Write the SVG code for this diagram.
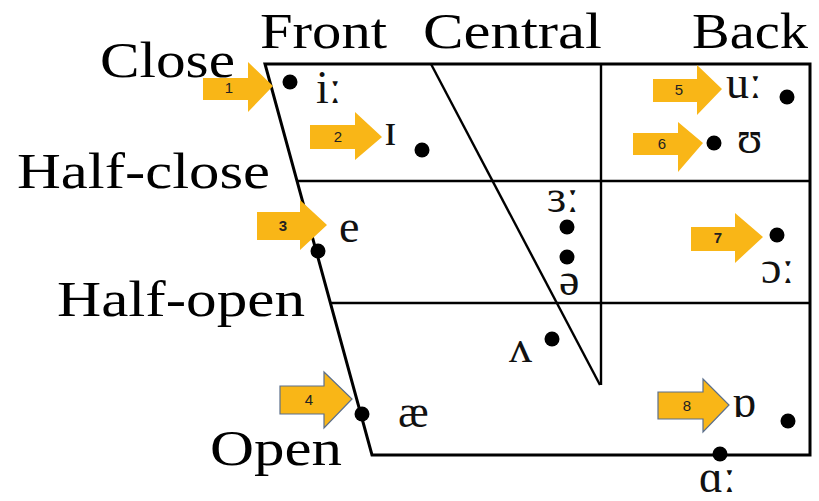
<svg xmlns="http://www.w3.org/2000/svg" width="819" height="501" viewBox="0 0 819 501">
<style>
.lbl{font-family:"Liberation Serif","Times New Roman",serif;font-size:50px;fill:#000}
.v{font-family:"Liberation Serif","DejaVu Serif",serif;font-size:46px;fill:#111}
.ln{stroke:#000;stroke-width:3;fill:none}
.ln2{stroke:#000;stroke-width:2.4;fill:none}
.arr{fill:#F9B617}
.arrb{fill:#F9B617;stroke:#5B6F8C;stroke-width:1.2}
.n{font-family:"Liberation Sans",Arial,sans-serif;font-size:15px;fill:#222;text-anchor:middle}
.dot{fill:#000}
</style>
<rect width="819" height="501" fill="#fff"/>
<g id="labels">
<text class="lbl" x="260" y="48" textLength="127" lengthAdjust="spacingAndGlyphs">Front</text>
<text class="lbl" x="423" y="48" textLength="179" lengthAdjust="spacingAndGlyphs">Central</text>
<text class="lbl" x="692" y="48" textLength="116" lengthAdjust="spacingAndGlyphs">Back</text>
<text class="lbl" x="100" y="77" textLength="135" lengthAdjust="spacingAndGlyphs">Close</text>
<text class="lbl" x="17" y="188" textLength="253" lengthAdjust="spacingAndGlyphs">Half-close</text>
<text class="lbl" x="57" y="316" textLength="248" lengthAdjust="spacingAndGlyphs">Half-open</text>
<text class="lbl" x="210" y="465" textLength="132" lengthAdjust="spacingAndGlyphs">Open</text>
</g>
<g id="chart">
<path class="ln" d="M265,64 H810 V455 H372 Z"/>
<line class="ln2" x1="298" y1="181" x2="810" y2="181"/>
<line class="ln2" x1="330" y1="303" x2="810" y2="303"/>
<line class="ln2" x1="601" y1="64" x2="601" y2="385"/>
<line class="ln2" x1="431" y1="64" x2="600" y2="385"/>
</g>
<g id="dots">
<circle class="dot" cx="290" cy="82" r="7.5"/>
<circle class="dot" cx="422" cy="150" r="7.5"/>
<circle class="dot" cx="318" cy="251" r="7.5"/>
<circle class="dot" cx="567" cy="227" r="7.5"/>
<circle class="dot" cx="567" cy="257" r="7.5"/>
<circle class="dot" cx="552" cy="339" r="7.5"/>
<circle class="dot" cx="362" cy="414" r="7.5"/>
<circle class="dot" cx="787" cy="97" r="7.5"/>
<circle class="dot" cx="714" cy="143" r="7.5"/>
<circle class="dot" cx="777" cy="235" r="7.5"/>
<circle class="dot" cx="788" cy="421" r="7.5"/>
<circle class="dot" cx="720" cy="454" r="7.5"/>
</g>
<g id="vowels">
<text class="v" x="316" y="103">iː</text>
<text class="v" x="384" y="145">ɪ</text>
<text class="v" x="339" y="242">e</text>
<text class="v" x="547" y="212">ɜː</text>
<text class="v" x="559" y="295">ə</text>
<text class="v" x="509" y="362">ʌ</text>
<text class="v" x="398" y="427">æ</text>
<text class="v" x="726" y="98">uː</text>
<text class="v" x="737" y="153">ʊ</text>
<text class="v" x="761" y="283">ɔː</text>
<text class="v" x="732" y="417">ɒ</text>
<text class="v" x="699" y="492">ɑː</text>
</g>
<g id="arrow1"><path class="arr" d="M203,78 H248 V62 L273,86 L248,112 V100 H203 Z"/><text class="n" x="229" y="93">1</text></g>
<g id="arrow2"><path class="arr" d="M310,125 H355 V112 L382,137 L355,160 V149 H310 Z"/><text class="n" x="338" y="142">2</text></g>
<g id="arrow3"><path class="arr" d="M257,212 H300 V200 L327,225 L300,250 V240 H257 Z"/><text class="n" x="283" y="231" font-weight="bold">3</text></g>
<g id="arrow4"><path class="arrb" d="M280,386 H324 V372 L352,399 L324,428 V414 H280 Z"/><text class="n" x="309" y="405">4</text></g>
<g id="arrow5"><path class="arr" d="M653,79 H697 V65 L722,89 L697,115 V102 H653 Z"/><text class="n" x="679" y="95">5</text></g>
<g id="arrow6"><path class="arr" d="M633,133 H678 V122 L703,143 L678,172 V155 H633 Z"/><text class="n" x="662" y="149">6</text></g>
<g id="arrow7"><path class="arr" d="M691,227 H735 V213 L763,237 L735,263 V251 H691 Z"/><text class="n" x="718" y="243" font-weight="bold">7</text></g>
<g id="arrow8"><path class="arrb" d="M658,392 H703 V379 L729,405 L703,432 V419 H658 Z"/><text class="n" x="687" y="411">8</text></g>
</svg>
